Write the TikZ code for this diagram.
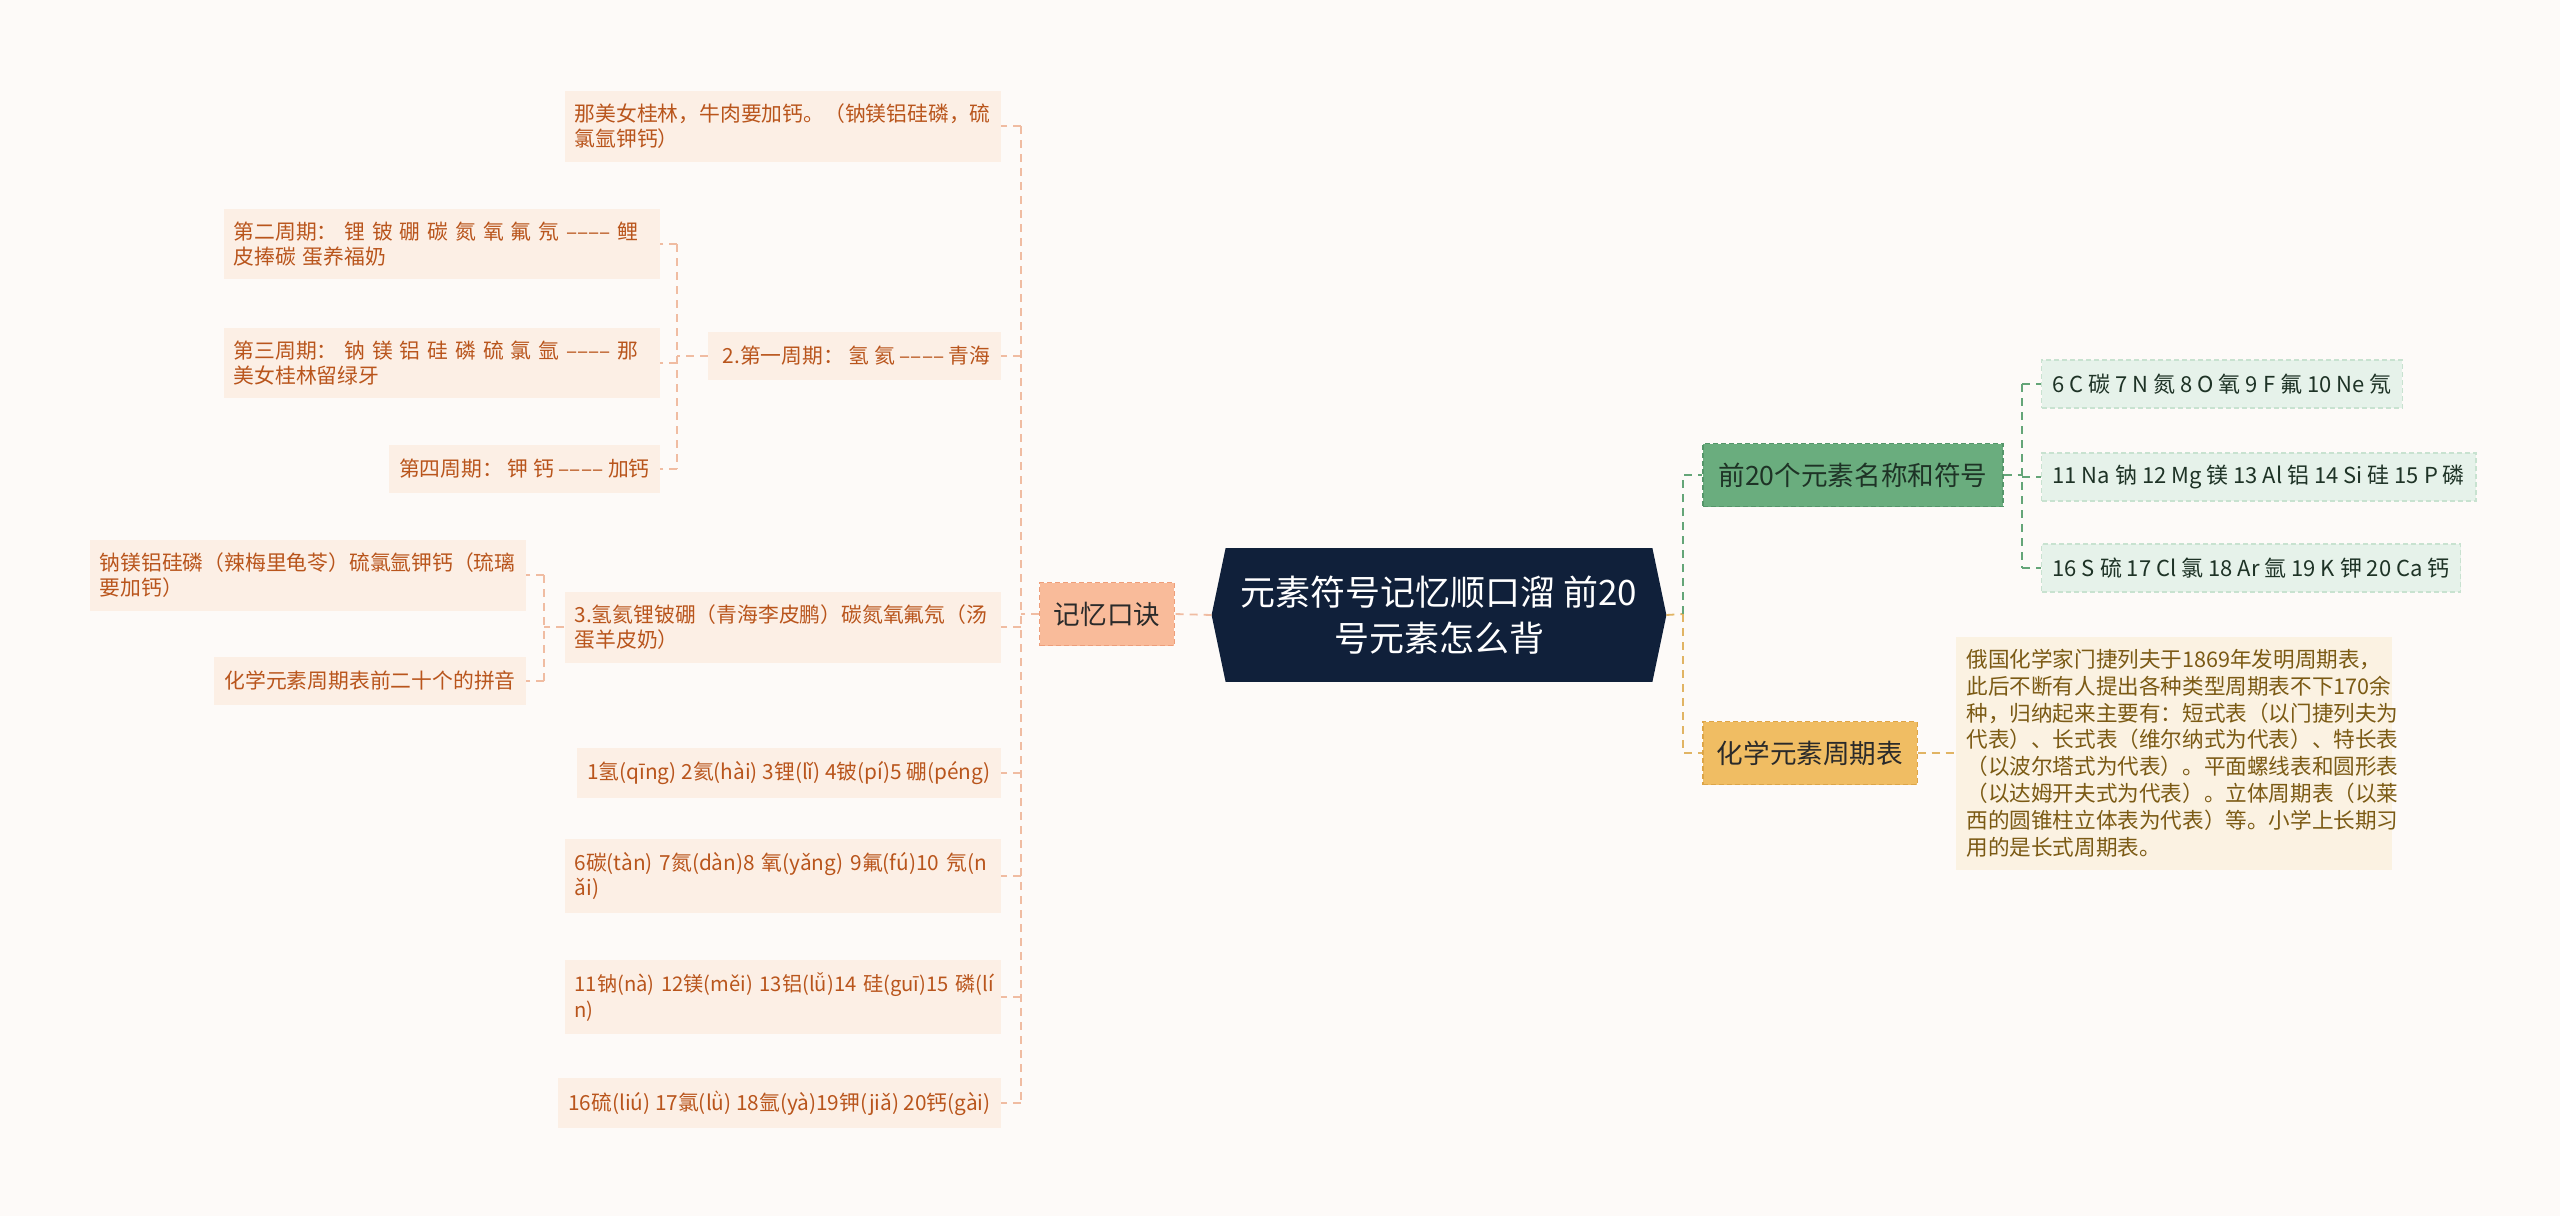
\documentclass[tikz,border=0pt]{standalone}
\usepackage{fontspec}
\setmainfont{Noto Sans CJK SC}
\usetikzlibrary{calc, backgrounds}
\definecolor{paper}{HTML}{FDFAF8}
\definecolor{navy}{HTML}{10203A}
\definecolor{salmon}{HTML}{F9BB9A}
\definecolor{salmondark}{HTML}{EE9E7A}
\definecolor{salmonline}{HTML}{F0BCA2}
\definecolor{leaffill}{HTML}{FCEFE5}
\definecolor{leaftext}{HTML}{B9551C}
\definecolor{symgreen}{HTML}{6AAD7E}
\definecolor{symdark}{HTML}{55966A}
\definecolor{symline}{HTML}{64A578}
\definecolor{symleafbg}{HTML}{E6F2EA}
\definecolor{symleafline}{HTML}{C8E2D0}
\definecolor{symtext}{HTML}{1E3326}
\definecolor{gold}{HTML}{F0BD63}
\definecolor{golddark}{HTML}{DDA548}
\definecolor{goldline}{HTML}{E1B464}
\definecolor{tabfill}{HTML}{FBF2E2}
\definecolor{tabtext}{HTML}{7B5A14}
\definecolor{ink}{HTML}{2A2A2A}

\begin{document}
\begin{tikzpicture}[x=0.5pt, y=-0.5pt,
  leaf/.style={fill=leaffill, text=leaftext, font=\fontsize{10.4}{12.6}\selectfont,
    inner xsep=5pt, inner ysep=6.5pt, minimum height=24pt, anchor=east, align=left},
  wide/.style={text width=208pt},
  lline/.style={salmonline, line width=0.9pt, dash pattern=on 4pt off 3pt},
  sline/.style={symline, line width=0.9pt, dash pattern=on 4pt off 3pt},
  gline/.style={goldline, line width=0.9pt, dash pattern=on 4pt off 3pt},
  topic/.style={text=ink, font=\fontsize{13.3}{16}\selectfont, minimum height=31.5pt,
    inner xsep=7pt, line width=0.6pt, dash pattern=on 2.5pt off 1.5pt},
  symbox/.style={fill=symleafbg, draw=symleafline, line width=0.6pt,
    dash pattern=on 2.5pt off 1.5pt, text=symtext, font=\fontsize{11}{13}\selectfont,
    inner xsep=5.5pt, minimum height=24pt, anchor=west}
]
  \useasboundingbox (0,0) rectangle (2560,1216);

  % Root
  \node[text=white, align=center, font=\fontsize{17.5}{23}\selectfont,
    minimum width=213pt, minimum height=66.5pt] (root) at (1439,615)
    {元素符号记忆顺口溜 前20\\号元素怎么背};
  \begin{scope}[on background layer]
    \fill[paper] (0,0) rectangle (2560,1216);
    \fill[navy] (root.north west) -- (root.north east) -- ($(root.east)+(14,0)$) coordinate (rootR)
      -- (root.south east) -- (root.south west) -- ($(root.west)+(-14,0)$) coordinate (rootL) -- cycle;
  \end{scope}

  % Left branch
  \node[topic, fill=salmon, draw=salmondark, minimum width=67pt] (mem) at (1107,614) {记忆口诀};

  \node[leaf, wide] (m1) at (1001,126) {那美女桂林，牛肉要加钙。（钠镁铝硅磷，硫\\氯氩钾钙）};
  \node[leaf] (m2) at (1001,356) {\ 2.第一周期： 氢 氦 –––– 青海};
  \node[leaf, wide] (m3) at (1001,627) {3.氢氦锂铍硼（青海李皮鹏）碳氮氧氟氖（汤\\蛋羊皮奶）};
  \node[leaf] (m4) at (1001,773) {1氢(qīng) 2氦(hài) 3锂(lǐ) 4铍(pí)5 硼(péng)};
  \node[leaf, wide] (m5) at (1001,876) {6碳(tàn) 7氮(dàn)8 氧(yǎng) 9氟(fú)10 氖(n\\ǎi)};
  \node[leaf, wide, font=\fontsize{10.1}{12.6}\selectfont] (m6) at (1001,997)
    {\mbox{11钠(nà) 12镁(měi) 13铝(lǚ)14 硅(guī)15 磷(lí}\\n)};
  \node[leaf] (m7) at (1001,1103) {16硫(liú) 17氯(lǜ) 18氩(yà)19钾(jiǎ) 20钙(gài)};

  \node[leaf, wide] (m2a) at (660,244) {第二周期： 锂 铍 硼 碳 氮 氧 氟 氖 –––– 鲤\\皮捧碳 蛋养福奶};
  \node[leaf, wide] (m2b) at (660,363) {第三周期： 钠 镁 铝 硅 磷 硫 氯 氩 –––– 那\\美女桂林留绿牙};
  \node[leaf] (m2c) at (660,469) {第四周期： 钾 钙 –––– 加钙};

  \node[leaf, wide] (m3a) at (526,575) {钠镁铝硅磷（辣梅里龟苓）硫氯氩钾钙（琉璃\\要加钙）};
  \node[leaf] (m3b) at (526,681) {化学元素周期表前二十个的拼音};

  \coordinate (lt) at (1021,614);
  \draw[lline] (rootL) -- (mem.east);
  \draw[lline] (mem.west) -- (lt);
  \draw[lline] (lt |- m1.east) -- (lt |- m7.east);
  \foreach \n in {m1,m2,m3,m4,m5,m6,m7}
    \draw[lline] (lt |- \n.east) -- (\n.east);

  \coordinate (l2t) at (677,356);
  \draw[lline] (m2.west) -- (l2t);
  \draw[lline] (l2t |- m2a.east) -- (l2t |- m2c.east);
  \foreach \n in {m2a,m2b,m2c}
    \draw[lline] (l2t |- \n.east) -- (\n.east);

  \coordinate (l3t) at (544,627);
  \draw[lline] (m3.west) -- (l3t);
  \draw[lline] (l3t |- m3a.east) -- (l3t |- m3b.east);
  \foreach \n in {m3a,m3b}
    \draw[lline] (l3t |- \n.east) -- (\n.east);

  % Right branch
  \node[topic, fill=symgreen, draw=symdark, text=symtext, minimum width=150pt] (sym) at (1853,475) {前20个元素名称和符号};
  \node[topic, fill=gold, draw=golddark, minimum width=107pt] (tab) at (1810,753) {化学元素周期表};

  \node[symbox] (s1) at (2041,384) {6 C 碳 7 N 氮 8 O 氧 9 F 氟 10 Ne 氖};
  \node[symbox] (s2) at (2041,477) {11 Na 钠 12 Mg 镁 13 Al 铝 14 Si 硅 15 P 磷};
  \node[symbox] (s3) at (2041,568) {16 S 硫 17 Cl 氯 18 Ar 氩 19 K 钾 20 Ca 钙};

  \node[fill=tabfill, text=tabtext, font=\fontsize{10.8}{13.4}\selectfont, text width=208pt,
    align=left, inner xsep=5pt, minimum height=116.5pt, anchor=west] (note) at (1956,753)
    {俄国化学家门捷列夫于1869年发明周期表，\\此后不断有人提出各种类型周期表不下170余\\种，归纳起来主要有：短式表（以门捷列夫为\\代表）、长式表（维尔纳式为代表）、特长表\\（以波尔塔式为代表）。平面螺线表和圆形表\\（以达姆开夫式为代表）。立体周期表（以莱\\西的圆锥柱立体表为代表）等。小学上长期习\\用的是长式周期表。};

  \coordinate (rt) at (1683,614);
  \draw[gline] (rootR) -- (rt);
  \draw[sline] (rt) -- (rt |- sym.west) -- (sym.west);
  \draw[gline] (rt) -- (rt |- tab.west) -- (tab.west);

  \coordinate (st) at (2022,475);
  \draw[sline] (sym.east) -- (st);
  \draw[sline] (st |- s1.west) -- (st |- s3.west);
  \foreach \n in {s1,s2,s3}
    \draw[sline] (st |- \n.west) -- (\n.west);

  \draw[gline] (tab.east) -- (note.west);
\end{tikzpicture}
\end{document}
